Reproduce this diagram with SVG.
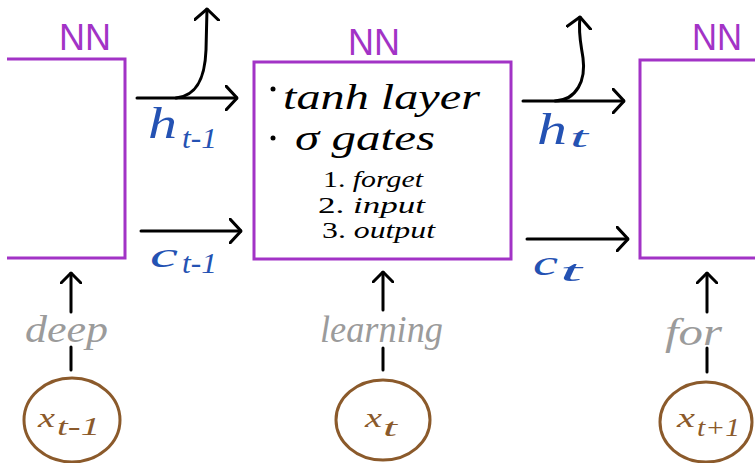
<svg xmlns="http://www.w3.org/2000/svg" width="755" height="463" viewBox="0 0 755 463">
<defs>
<style>
.box{fill:none;stroke:#a233c6;stroke-width:3}
.nn{font-family:"Liberation Sans",Arial,sans-serif;font-size:36px;fill:#a233c6}
.con{fill:none;stroke:#000;stroke-width:3;stroke-linecap:round}
.hand{font-family:"Liberation Serif","Times New Roman",serif;font-style:italic}
.body{fill:#000;font-size:36px}
.list{fill:#000;font-size:24px}
.blue{fill:#2452b3}
.gray{fill:#9b9b9b;font-size:38px}
.brown{fill:#8b5a2b}
.circ{fill:none;stroke:#8b5a2b;stroke-width:3}
</style>
<marker id="ah" viewBox="0 0 13 26" refX="12" refY="13" markerWidth="13" markerHeight="26" markerUnits="userSpaceOnUse" orient="auto">
<path d="M1,1 L12,13 L1,25" fill="none" stroke="#000" stroke-width="3" stroke-linecap="round" stroke-linejoin="round"/>
</marker>
<marker id="ahs" viewBox="0 0 12 22" refX="11" refY="11" markerWidth="12" markerHeight="22" markerUnits="userSpaceOnUse" orient="auto">
<path d="M1,1 L11,11 L1,21" fill="none" stroke="#000" stroke-width="3" stroke-linecap="round" stroke-linejoin="round"/>
</marker>
</defs>
<rect width="755" height="463" fill="#fff"/>

<g id="nn-prev">
<polyline class="box" points="7,59 125,59 125,258 7,258"/>
<text class="nn" x="59" y="50" textLength="52" lengthAdjust="spacingAndGlyphs">NN</text>
</g>

<g id="nn-current">
<rect class="box" x="254" y="62" width="257" height="197"/>
<text class="nn" x="348" y="55" textLength="52" lengthAdjust="spacingAndGlyphs">NN</text>
<circle cx="273" cy="89" r="2.5" fill="#000"/>
<text class="hand body" x="283" y="109" textLength="197" lengthAdjust="spacingAndGlyphs">tanh layer</text>
<circle cx="273" cy="138" r="2.5" fill="#000"/>
<text class="hand body" x="295" y="150" textLength="140" lengthAdjust="spacingAndGlyphs">σ gates</text>
<text class="hand list" x="323" y="187" textLength="100" lengthAdjust="spacingAndGlyphs"><tspan font-style="normal">1. </tspan>forget</text>
<text class="hand list" x="318" y="213" textLength="107" lengthAdjust="spacingAndGlyphs"><tspan font-style="normal">2. </tspan>input</text>
<text class="hand list" x="322" y="238" textLength="113" lengthAdjust="spacingAndGlyphs"><tspan font-style="normal">3. </tspan>output</text>
</g>

<g id="nn-next">
<polyline class="box" points="755,60 640,60 640,258 755,258"/>
<text class="nn" x="692" y="50" textLength="50" lengthAdjust="spacingAndGlyphs">NN</text>
</g>

<g id="connectors">
<path class="con" d="M137,98 L237,98" marker-end="url(#ah)"/>
<path class="con" d="M176,98 C198,96 205,76 206,50 L207,9" marker-end="url(#ah)"/>
<path class="con" d="M141,231 L241,231" marker-end="url(#ah)"/>
<path class="con" d="M523,101 L624,101" marker-end="url(#ah)"/>
<path class="con" d="M555,101 C577,100 586,80 583,58 C581,44 578,34 580,17" marker-end="url(#ah)"/>
<path class="con" d="M527,239 L628,239" marker-end="url(#ah)"/>
<path class="con" d="M71,312 L71,273" marker-end="url(#ahs)"/>
<path class="con" d="M383,310 L383,272" marker-end="url(#ahs)"/>
<path class="con" d="M707,312 L707,273" marker-end="url(#ahs)"/>
<path class="con" d="M71,347 L71,370"/>
<path class="con" d="M383,348 L383,370"/>
<path class="con" d="M707,348 L707,372"/>
</g>

<g id="labels">
<text class="hand blue" font-size="44" x="148" y="138" textLength="29" lengthAdjust="spacingAndGlyphs">h</text>
<text class="hand blue" font-size="30" x="182" y="148" textLength="35" lengthAdjust="spacingAndGlyphs">t-1</text>
<text class="hand blue" font-size="36" x="150" y="267" textLength="28" lengthAdjust="spacingAndGlyphs">c</text>
<text class="hand blue" font-size="30" x="182" y="273" textLength="35" lengthAdjust="spacingAndGlyphs">t-1</text>
<text class="hand blue" font-size="44" x="537" y="144" textLength="30" lengthAdjust="spacingAndGlyphs">h</text>
<text class="hand blue" font-size="30" x="570" y="147" textLength="18" lengthAdjust="spacingAndGlyphs">t</text>
<text class="hand blue" font-size="36" x="533" y="275" textLength="25" lengthAdjust="spacingAndGlyphs">c</text>
<text class="hand blue" font-size="30" x="560" y="281" textLength="22" lengthAdjust="spacingAndGlyphs">t</text>
</g>

<g id="word-deep">
<text class="hand gray" x="25" y="342" textLength="83" lengthAdjust="spacingAndGlyphs">deep</text>
</g>
<g id="word-learning">
<text class="hand gray" x="320" y="342" textLength="123" lengthAdjust="spacingAndGlyphs">learning</text>
</g>
<g id="word-for">
<text class="hand gray" x="665" y="345" textLength="57" lengthAdjust="spacingAndGlyphs">for</text>
</g>

<g id="x-prev">
<ellipse class="circ" cx="72" cy="420" rx="48" ry="42"/>
<text class="hand brown" font-size="28" x="38" y="427" textLength="17" lengthAdjust="spacingAndGlyphs">x</text>
<text class="hand brown" font-size="26" x="57" y="435" textLength="43" lengthAdjust="spacingAndGlyphs">t-1</text>
</g>
<g id="x-current">
<ellipse class="circ" cx="383" cy="420" rx="47" ry="40"/>
<text class="hand brown" font-size="28" x="365" y="427" textLength="17" lengthAdjust="spacingAndGlyphs">x</text>
<text class="hand brown" font-size="26" x="383" y="436" textLength="14" lengthAdjust="spacingAndGlyphs">t</text>
</g>
<g id="x-next">
<ellipse class="circ" cx="706" cy="422" rx="46" ry="40"/>
<text class="hand brown" font-size="28" x="677" y="427" textLength="18" lengthAdjust="spacingAndGlyphs">x</text>
<text class="hand brown" font-size="26" x="697" y="436" textLength="43" lengthAdjust="spacingAndGlyphs">t+1</text>
</g>
</svg>
